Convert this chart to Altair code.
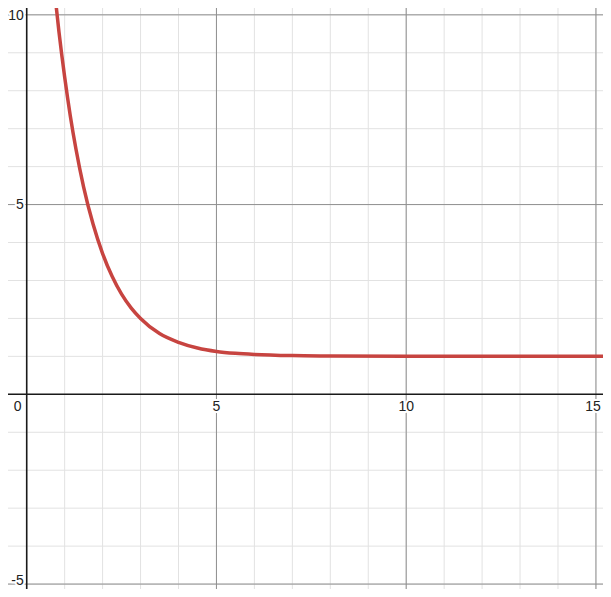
import altair as alt
import pandas as pd

# curve values
curve_x = [0.70, 0.85, 1.0, 1.15, 1.3, 1.5, 1.75, 2.0, 2.25, 2.5, 2.75, 3.0, 3.5, 4.0, 4.5, 5.0, 5.5, 6.0, 7.0, 8.0, 10.0, 12.0, 15.4]
curve_y = [10.93, 9.55, 8.36, 7.33, 6.45, 5.46, 4.48, 3.71, 3.11, 2.64, 2.28, 2.00, 1.60, 1.37, 1.22, 1.13, 1.08, 1.05, 1.02, 1.01, 1.00, 1.00, 1.00]

minor_x = list(range(0, 16))
minor_y = list(range(-5, 11))
major_x = [5, 10, 15]
major_y = [-5, 5, 10]
x_labels = ["5", "10", "15"]
y_labels = ["-5", "5", "10"]

X_DOMAIN = [-0.493, 15.186]
Y_DOMAIN = [-5.13, 10.18]
xs = alt.Scale(domain=X_DOMAIN, nice=False, zero=False)
ys = alt.Scale(domain=Y_DOMAIN, nice=False, zero=False)

FONT = "Liberation Sans"

minor_v = alt.Chart(pd.DataFrame({"v": minor_x})).mark_rule(color="#e2e2e2", strokeWidth=1).encode(
    x=alt.X("v:Q", scale=xs, axis=None))
minor_h = alt.Chart(pd.DataFrame({"v": minor_y})).mark_rule(color="#e2e2e2", strokeWidth=1).encode(
    y=alt.Y("v:Q", scale=ys, axis=None))
major_v = alt.Chart(pd.DataFrame({"v": major_x})).mark_rule(color="#8f8f8f", strokeWidth=1).encode(
    x=alt.X("v:Q", scale=xs, axis=None))
major_h = alt.Chart(pd.DataFrame({"v": major_y})).mark_rule(color="#8f8f8f", strokeWidth=1).encode(
    y=alt.Y("v:Q", scale=ys, axis=None))
axis_v = alt.Chart(pd.DataFrame({"v": [0]})).mark_rule(color="#1a1a1a", strokeWidth=1.6).encode(
    x=alt.X("v:Q", scale=xs, axis=None))
axis_h = alt.Chart(pd.DataFrame({"v": [0]})).mark_rule(color="#1a1a1a", strokeWidth=1.6).encode(
    y=alt.Y("v:Q", scale=ys, axis=None))

curve = alt.Chart(pd.DataFrame({"x": curve_x, "y": curve_y})).mark_line(
    color="#c74440", strokeWidth=3.5, interpolate="monotone", clip=True).encode(
    x=alt.X("x:Q", scale=xs, axis=None),
    y=alt.Y("y:Q", scale=ys, axis=None))


def label(xv, yv, text, align, dx, dy):
    df = pd.DataFrame({"x": [xv], "y": [yv], "t": [text]})
    layers = []
    for halo in (True, False):
        kw = dict(stroke="white", strokeWidth=4, strokeJoin="round") if halo else {}
        layers.append(alt.Chart(df).mark_text(
            font=FONT, fontSize=14, color="#222", align=align, baseline="middle",
            dx=dx, dy=dy, **kw).encode(
            x=alt.X("x:Q", scale=xs, axis=None), y=alt.Y("y:Q", scale=ys, axis=None), text="t:N"))
    return layers


halo_layers, text_layers = [], []
x_dx = {"5": 0, "10": 0, "15": -3}
for v, t in zip(major_x, x_labels):
    h, n = label(v, 0, t, "center", x_dx[t], 13)
    halo_layers.append(h); text_layers.append(n)
y_dy = {"-5": -3, "5": 0, "10": 1}
for v, t in zip(major_y, y_labels):
    h, n = label(0, v, t, "right", -3, y_dy[t])
    halo_layers.append(h); text_layers.append(n)
h, n = label(0, 0, "0", "center", -9, 13)
halo_layers.append(h); text_layers.append(n)

chart = alt.layer(
    minor_v, minor_h, major_v, major_h, axis_v, axis_h, curve,
    *halo_layers, *text_layers,
).properties(width=595, height=581, padding=0, autosize="none").configure_view(stroke=None)

chart.save("out.html", embed_options={"renderer": "svg", "actions": False})
